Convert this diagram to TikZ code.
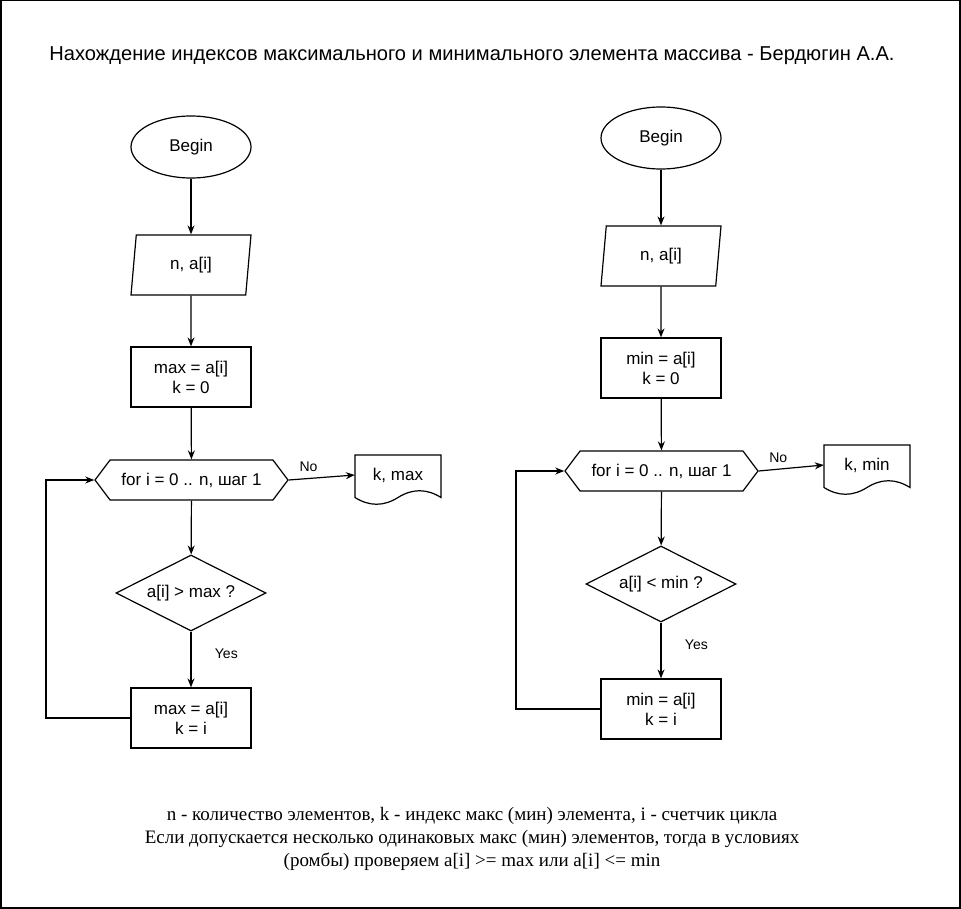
\documentclass[tikz,border=0pt]{standalone}
\usepackage{fontspec}
\setmainfont{Liberation Serif}
\setsansfont{Liberation Sans}
\usetikzlibrary{shapes.geometric, shapes.symbols, arrows.meta, positioning}

\tikzset{
    base/.style={draw, line width=1.2pt, font=\sffamily\fontsize{17}{20}\selectfont, align=center},
    startstop/.style={base, ellipse, minimum width=120, minimum height=62, inner sep=0pt},
    io/.style={base, trapezium, trapezium left angle=71.6, trapezium right angle=108.4,
        trapezium stretches body, minimum width=120, minimum height=60, inner sep=0pt},
    process/.style={base, rectangle, minimum width=120, minimum height=60, inner sep=0pt},
    loopbox/.style={base, signal, signal to=west and east, signal pointer angle=106,
        minimum width=193, minimum height=40, inner sep=0pt},
    decision/.style={base, diamond, aspect=1.97, minimum width=150, minimum height=76, inner sep=0pt},
    doctext/.style={font=\sffamily\fontsize{17}{20}\selectfont, minimum width=86, minimum height=42, inner sep=0pt},
    lbl/.style={font=\sffamily\fontsize{14}{16}\selectfont},
    arrow/.style={line width=1.2pt, -{Stealth[length=9pt, width=7pt]}}
}

\begin{document}
\begin{tikzpicture}[x=1pt, y=-1pt]
    \useasboundingbox (0,0) rectangle (961,909);
    % Frame
    \draw[line width=1.5pt] (0.75,0.75) rectangle (959.75,907.75);

    % Title
    \node[font=\sffamily\fontsize{20.1}{22}\selectfont] (title) at (472,56)
        {Нахождение индексов максимального и минимального элемента массива - Бердюгин А.А.};

    % Max column
    \node[startstop] (beginL) at (191,147) {Begin};
    \node[io] (inL) at (191,265) {n, a[i]};
    \node[process] (initL) at (191,377) {max = a[i]\\k = 0};
    \node[loopbox] (forL) at (191.5,480) {for i = 0 .. n, шаг 1};
    \node[decision] (condL) at (191,593) {a[i] > max ?};
    \node[process] (updL) at (191,718) {max = a[i]\\k = i};
    \node[doctext] (outL) at (398,475) {k, max};
    \draw[line width=1.2pt, shift={(355,455)}] (0,0) -- (86,0) -- (86,42.5)
        .. controls (71.7,33.5) and (57.3,33.5) .. (43,42.5)
        .. controls (28.7,51.5) and (14.3,51.5) .. (0,42.5) -- cycle;

    \draw[arrow] (beginL) -- (inL);
    \draw[arrow] (inL) -- (initL);
    \draw[arrow] (initL) -- (forL);
    \draw[arrow] (forL) -- (condL);
    \draw[arrow] (condL) -- node[lbl, pos=0.4, right=20pt] {Yes} (updL);
    \draw[arrow] (forL.east) -- node[lbl, pos=0.3, above=3pt] {No} (outL.west);
    \draw[arrow] (updL.west) -| (46,480) -- (forL.west);

    % Min column
    \node[startstop] (beginR) at (661,138) {Begin};
    \node[io] (inR) at (661,256) {n, a[i]};
    \node[process] (initR) at (661,368) {min = a[i]\\k = 0};
    \node[loopbox] (forR) at (661.5,471) {for i = 0 .. n, шаг 1};
    \node[decision] (condR) at (661,584) {a[i] < min ?};
    \node[process] (updR) at (661,709) {min = a[i]\\k = i};
    \node[doctext] (outR) at (867,465) {k, min};
    \draw[line width=1.2pt, shift={(824,445)}] (0,0) -- (86,0) -- (86,42.5)
        .. controls (71.7,33.5) and (57.3,33.5) .. (43,42.5)
        .. controls (28.7,51.5) and (14.3,51.5) .. (0,42.5) -- cycle;

    \draw[arrow] (beginR) -- (inR);
    \draw[arrow] (inR) -- (initR);
    \draw[arrow] (initR) -- (forR);
    \draw[arrow] (forR) -- (condR);
    \draw[arrow] (condR) -- node[lbl, pos=0.4, right=20pt] {Yes} (updR);
    \draw[arrow] (forR.east) -- node[lbl, pos=0.3, above=3pt] {No} (outR.west);
    \draw[arrow] (updR.west) -| (516,471) -- (forR.west);

    % Notes
    \node[font=\fontsize{19}{23}\selectfont, align=center] (notes) at (472,839)
        {n - количество элементов, k - индекс макс (мин) элемента, i - счетчик цикла\\
         Если допускается несколько одинаковых макс (мин) элементов, тогда в условиях\\
         (ромбы) проверяем a[i] >= max или a[i] <= min};
\end{tikzpicture}
\end{document}
